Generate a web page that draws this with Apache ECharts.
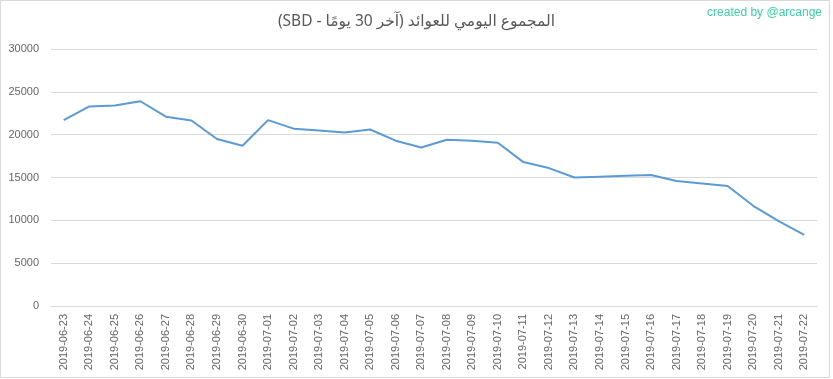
<!DOCTYPE html>
<html>
<head>
<meta charset="utf-8">
<script src="https://cdn.jsdelivr.net/npm/echarts@6/dist/echarts.min.js"></script>
<style>html,body{margin:0;padding:0;background:#fff;}#c{width:833px;height:379px;}</style>
</head>
<body>
<div id="c"></div>
<script>
const titleText = '\u202Bالمجموع اليومي للعوائد (آخر 30 يومًا - SBD)\u202C';
const creditText = 'created by @arcange';
const categories = ['2019-06-23','2019-06-24','2019-06-25','2019-06-26','2019-06-27','2019-06-28','2019-06-29','2019-06-30','2019-07-01','2019-07-02','2019-07-03','2019-07-04','2019-07-05','2019-07-06','2019-07-07','2019-07-08','2019-07-09','2019-07-10','2019-07-11','2019-07-12','2019-07-13','2019-07-14','2019-07-15','2019-07-16','2019-07-17','2019-07-18','2019-07-19','2019-07-20','2019-07-21','2019-07-22'];
const values = [21700,23300,23400,23900,22100,21650,19500,18700,21700,20700,20500,20250,20600,19300,18500,19400,19300,19050,16800,16100,15000,15100,15200,15300,14600,14300,14000,11700,9900,8300];
const yTicks = [0,5000,10000,15000,20000,25000,30000];

const chart = echarts.init(document.getElementById('c'));
chart.setOption({
  animation: false,
  backgroundColor: '#ffffff',
  textStyle: {fontFamily: 'Liberation Sans, Arial, sans-serif'},
  title: {
    text: titleText,
    left: 'center',
    top: 9,
    textStyle: {fontSize: 15.5, fontWeight: 'normal', color: '#595959', fontFamily: 'Noto Sans, DejaVu Sans, sans-serif'}
  },
  graphic: [
    {type: 'rect', shape: {x: 0.5, y: 0.5, width: 829, height: 377}, style: {fill: 'none', stroke: '#d9d9d9', lineWidth: 1}, silent: true},
    {type: 'text', right: 11, top: 7, style: {text: creditText, fill: '#3ccfa6', fontSize: 12, fontFamily: 'Liberation Sans, Arial, sans-serif'}}
  ],
  grid: {left: 51, right: 16, top: 49, bottom: 73, containLabel: false},
  xAxis: {
    type: 'category',
    data: categories,
    boundaryGap: true,
    axisLine: {lineStyle: {color: '#d9d9d9', width: 1}},
    axisTick: {show: false},
    axisLabel: {rotate: 90, interval: 0, color: '#666666', fontSize: 11, margin: 8}
  },
  yAxis: {
    type: 'value',
    min: yTicks[0],
    max: yTicks[yTicks.length - 1],
    interval: yTicks[1] - yTicks[0],
    axisLine: {show: false},
    axisTick: {show: false},
    splitLine: {lineStyle: {color: '#d9d9d9', width: 1}},
    axisLabel: {color: '#666666', fontSize: 11, margin: 12, formatter: function (v) { return String(v); }}
  },
  series: [{
    type: 'line',
    data: values,
    showSymbol: false,
    symbol: 'none',
    lineStyle: {color: '#5b9bd5', width: 2},
    itemStyle: {color: '#5b9bd5'}
  }]
});
</script>
</body>
</html>
